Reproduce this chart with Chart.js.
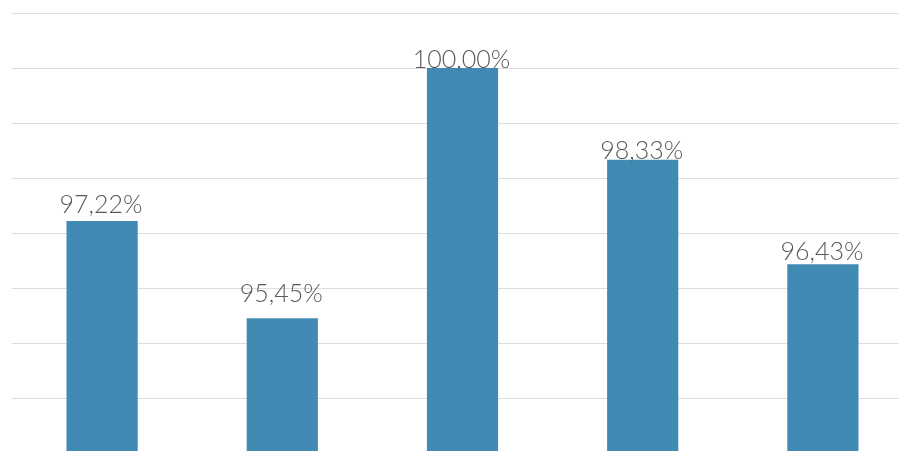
<!DOCTYPE html>
<html>
<head>
<meta charset="utf-8">
<script src="https://cdn.jsdelivr.net/npm/chart.js@4"></script>
<style>
  html, body { margin: 0; padding: 0; background: #fff; overflow: hidden; }
  #wrap { position: relative; width: 913px; height: 453px; }
</style>
</head>
<body>
<div id="wrap"><canvas id="myCanvas"></canvas></div>
<script>
// bar data
const categories = ['A', 'B', 'C', 'D', 'E'];
const rates = [97.22, 95.45, 100.00, 98.33, 96.43];
const yMin = 93;
const yMax = 101;

// space between label baseline and bar top, px
const labelGap = [8, 16, 0, 1, 4];

// prints the percentage above each bar, comma decimal
const valueLabels = {
  id: 'valueLabels',
  afterDatasetsDraw(chart) {
    const ctx = chart.ctx;
    const meta = chart.getDatasetMeta(0);
    ctx.save();
    ctx.font = '300 25px Lato, "Open Sans", sans-serif';
    ctx.fillStyle = '#595959';
    ctx.textAlign = 'center';
    ctx.textBaseline = 'alphabetic';
    meta.data.forEach(function (bar, i) {
      const txt = rates[i].toFixed(2).replace('.', ',') + '%';
      ctx.fillText(txt, bar.x - 1, bar.y - labelGap[i]);
    });
    ctx.restore();
  }
};

var c = document.getElementById("myCanvas");
var ctx = c.getContext("2d");

const barChart = new Chart(ctx, {
  type: "bar",
  data: {
    labels: categories,
    datasets: [{
      label: "Rate",
      data: rates,
      backgroundColor: '#408ab4',
      borderWidth: 0,
      barPercentage: 0.395,
      categoryPercentage: 1.0
    }]
  },
  options: {
    responsive: true,
    maintainAspectRatio: false,
    animation: false,
    layout: { padding: { left: 12, top: 13, right: 0, bottom: 0 } },
    plugins: {
      legend: { display: false },
      tooltip: { enabled: false }
    },
    scales: {
      x: { display: false },
      y: {
        min: yMin,
        max: yMax,
        ticks: { display: false, stepSize: 1 },
        border: { display: false },
        grid: { color: '#dddddd', lineWidth: 1, drawTicks: false }
      }
    }
  },
  plugins: [valueLabels]
});
</script>
</body>
</html>
